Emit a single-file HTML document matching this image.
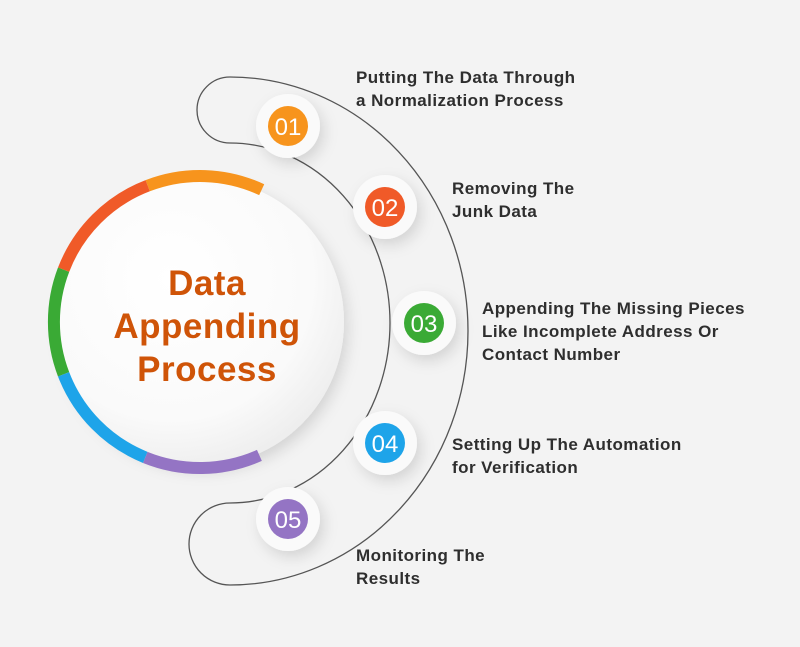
<!DOCTYPE html>
<html><head><meta charset="utf-8"><style>
body{margin:0;width:800px;height:647px;background:#f3f3f3;overflow:hidden;font-family:"Liberation Sans",sans-serif;position:relative}
svg{position:absolute;left:0;top:0}
.t{position:absolute;font-weight:bold;font-size:17px;letter-spacing:0.45px;color:#2e2e2e;line-height:23px;white-space:nowrap}
.c{position:absolute;left:90px;top:262px;width:234px;text-align:center;color:#cf5408;font-weight:bold;font-size:35px;letter-spacing:0.5px;line-height:43px}
</style></head><body>
<svg width="800" height="647" viewBox="0 0 800 647">
<defs>
<radialGradient id="g" cx="0.4" cy="0.35" r="0.7"><stop offset="0" stop-color="#ffffff"/><stop offset="0.7" stop-color="#fafafa"/><stop offset="1" stop-color="#ececec"/></radialGradient>
<filter id="s" x="-30%" y="-30%" width="160%" height="160%"><feDropShadow dx="4" dy="6" stdDeviation="7" flood-color="#000" flood-opacity="0.13"/></filter>
</defs>
<circle cx="200" cy="322" r="144" fill="url(#g)" filter="url(#s)"/>
<g fill="none" stroke-width="12">
<path d="M261.7 189.7 A146 146 0 0 0 147.7 185.7" stroke="#f7941d"/>
<path d="M147.7 185.7 A146 146 0 0 0 63.6 269.7" stroke="#f05a28"/>
<path d="M63.6 269.7 A146 146 0 0 0 63.6 374.3" stroke="#3aaa35"/>
<path d="M63.6 374.3 A146 146 0 0 0 145.3 457.4" stroke="#1ea4e9"/>
<path d="M145.3 457.4 A146 146 0 0 0 259.4 455.4" stroke="#9474c4"/>
</g>
<path d="M230 77 A238 254 0 0 1 230 585 A41 41 0 0 1 230 503 A160 180 0 0 0 230 143 A33 33 0 0 1 230 77 Z" fill="none" stroke="#555" stroke-width="1.3"/>
<g filter="url(#s)" fill="#fafafa">
<circle cx="288" cy="126" r="32"/><circle cx="385" cy="207" r="32"/><circle cx="424" cy="323" r="32"/><circle cx="385" cy="443" r="32"/><circle cx="288" cy="519" r="32"/>
</g>
<circle cx="288" cy="126" r="20" fill="#f7941d"/>
<circle cx="385" cy="207" r="20" fill="#f05a28"/>
<circle cx="424" cy="323" r="20" fill="#3aaa35"/>
<circle cx="385" cy="443" r="20" fill="#1ea4e9"/>
<circle cx="288" cy="519" r="20" fill="#9474c4"/>
<g fill="#fff" font-family="Liberation Sans,sans-serif" font-size="24" text-anchor="middle">
<text x="288" y="135">01</text><text x="385" y="216">02</text><text x="424" y="332">03</text><text x="385" y="452">04</text><text x="288" y="528">05</text>
</g>
</svg>
<div class="c">Data<br>Appending<br>Process</div>
<div class="t" style="left:356px;top:66px">Putting The Data Through<br>a Normalization Process</div>
<div class="t" style="left:452px;top:177px">Removing The<br>Junk Data</div>
<div class="t" style="left:482px;top:297px">Appending The Missing Pieces<br>Like Incomplete Address Or<br>Contact Number</div>
<div class="t" style="left:452px;top:433px">Setting Up The Automation<br>for Verification</div>
<div class="t" style="left:356px;top:544px">Monitoring The<br>Results</div>
</body></html>
